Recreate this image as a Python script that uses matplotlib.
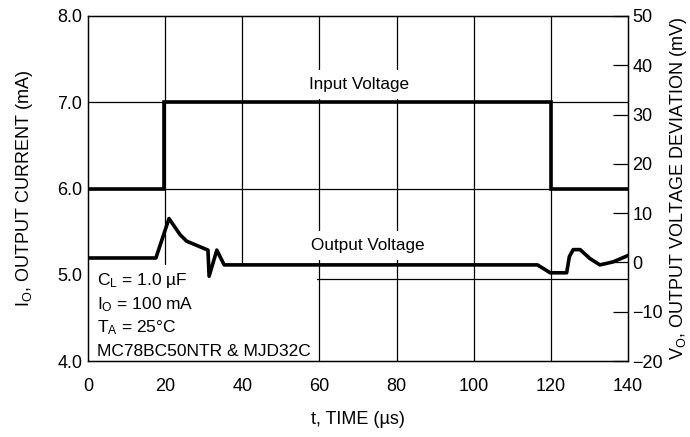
import matplotlib
matplotlib.use("Agg")
import matplotlib.pyplot as plt
from matplotlib.patches import Rectangle

plt.rcParams["font.family"] = ["Liberation Sans", "DejaVu Sans"]
plt.rcParams["mathtext.fontset"] = "custom"
plt.rcParams["mathtext.rm"] = "Liberation Sans"
plt.rcParams["mathtext.it"] = "Liberation Sans:italic"

# input step, read on the left scale
t_in = [0, 19.8, 19.8, 120, 120, 140]
i_in = [6.0, 6.0, 7.0, 7.0, 6.0, 6.0]

# output voltage deviation (mV), right scale
t_out = [0, 17.6, 21.0, 23.9, 25.6, 31.1, 31.4, 33.4, 35.3, 116.5, 118.2, 119.8,
         124.1, 124.8, 125.8, 127.6, 130.1, 132.7, 136.1, 140]
v_out = [0.9, 0.9, 8.9, 5.6, 4.3, 2.5, -2.8, 2.5, -0.5, -0.5, -1.3, -2.1,
         -2.1, 1.2, 2.6, 2.6, 0.8, -0.5, 0.1, 1.4]

x_ticks = [0, 20, 40, 60, 80, 100, 120, 140]
left_ticks = [4.0, 5.0, 6.0, 7.0, 8.0]
right_ticks = [-20, -10, 0, 10, 20, 30, 40, 50]
notes = ["C$_\\mathrm{L}$ = 1.0 µF", "I$_\\mathrm{O}$ = 100 mA",
         "T$_\\mathrm{A}$ = 25°C", "MC78BC50NTR & MJD32C"]

fig = plt.figure(figsize=(6.9, 4.37), dpi=100)
ax = fig.add_axes([88 / 690, 1 - 361 / 437, 540 / 690, 345 / 437])
ax.set_xlim(0, 140)
ax.set_ylim(4.0, 8.0)
ax.set_xticks(x_ticks)
ax.set_yticks(left_ticks)
ax.set_yticklabels([f"{v:.1f}" for v in left_ticks])
ax.tick_params(axis="y", length=0, labelsize=13, pad=4)
ax.tick_params(axis="x", length=0, labelsize=13, pad=12)

# grid
for x in x_ticks[1:-1]:
    ax.axvline(x, color="black", lw=0.9, zorder=1)
for y in [6.0, 7.0]:
    ax.axhline(y, color="black", lw=0.9, zorder=1)
ax.axhline(4.95, color="black", lw=0.9, zorder=1)

# white area behind the conditions text
ax.add_patch(Rectangle((0, 0), 0.424, 0.278, transform=ax.transAxes,
                       facecolor="white", edgecolor="none", zorder=2))

ax.plot(t_in, i_in, color="black", lw=2.6, zorder=4, solid_joinstyle="miter")

ax2 = ax.twinx()
ax2.set_ylim(-20, 50)
ax2.set_yticks(right_ticks)
ax2.tick_params(axis="y", direction="in", length=11, width=0.9, labelsize=13, pad=3)
ax2.plot(t_out, v_out, color="black", lw=2.6, zorder=4)
for s in ax2.spines.values():
    s.set_linewidth(1.0)

ax.text(70.3, 7.21, "Input Voltage", ha="center", va="center", fontsize=12.3,
        zorder=3, bbox=dict(facecolor="white", edgecolor="none", pad=5))
ax.text(72.5, 5.34, "Output Voltage", ha="center", va="center", fontsize=12.3,
        zorder=3, bbox=dict(facecolor="white", edgecolor="none", pad=5))

for k, s in enumerate(notes):
    ax.text(2.3, 4.93 - k * 0.272, s, ha="left", va="center", fontsize=12.5, zorder=3)

ax.set_xlabel("t, TIME (µs)", fontsize=13, labelpad=12)
ax.set_ylabel("I$_\\mathrm{O}$, OUTPUT CURRENT (mA)", fontsize=13, labelpad=16)
ax2.set_ylabel("V$_\\mathrm{O}$, OUTPUT VOLTAGE DEVIATION (mV)", fontsize=13, labelpad=4)

fig.savefig("out.png", dpi=100)
